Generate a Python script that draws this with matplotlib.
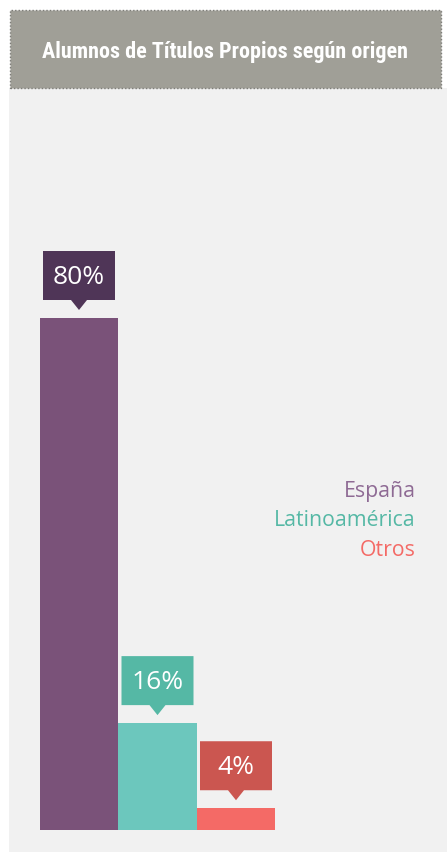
import matplotlib
matplotlib.use("Agg")
import matplotlib.pyplot as plt
import matplotlib.patches as mpatches
import matplotlib.transforms as mtransforms
from matplotlib import font_manager

title = "Alumnos de Títulos Propios según origen"
categories = ["España", "Latinoamérica", "Otros"]
values = [80, 16.7, 3.4]
labels = ["80%", "16%", "4%"]

bar_colors = ["#7a5279", "#6cc7bd", "#f46a66"]
box_colors = ["#4f3557", "#55b8a5", "#cb5650"]
legend_colors = ["#8e6a94", "#55b8a5", "#f46a66"]

W, H = 447, 852
fig = plt.figure(figsize=(W / 100, H / 100), dpi=100)
fig.patch.set_facecolor("white")

def px(x0, y0, x1, y1):
    # pixel box (top-left origin) -> figure fraction rect
    return [x0 / W, 1 - y1 / H, (x1 - x0) / W, (y1 - y0) / H]

# light panel + header
r = px(9, 88, 447, 852)
fig.patches.append(mpatches.Rectangle((r[0], r[1]), r[2], r[3], transform=fig.transFigure,
                                      facecolor="#f1f1f1", edgecolor="none", zorder=-2))
r = px(10, 10, 441, 88)
fig.patches.append(mpatches.Rectangle((r[0], r[1]), r[2], r[3], transform=fig.transFigure,
                                      facecolor="#a09f97", edgecolor="#7d7d78", linestyle=(0, (1, 1.5)),
                                      linewidth=1, zorder=-1))

# narrowest bold font we can find for the title
names = {f.name for f in font_manager.fontManager.ttflist}
title_font = "DejaVu Sans"
for cand in ["Roboto Condensed", "Liberation Sans Narrow", "DejaVu Sans Condensed", "Open Sans Condensed"]:
    if cand in names:
        title_font = cand
        break
t = fig.text((10 + 441) / 2 / W, 1 - 52 / H, title, ha="center", va="center", color="white",
             fontsize=17, fontweight="bold", family=title_font, zorder=5)
fig.canvas.draw()
w = t.get_window_extent().width
t.set_fontsize(17 * 366 / w)

# bar axes: left at x=10px, bottom at y=830px
ax = fig.add_axes(px(10, 88, 437, 830))
ax.set_zorder(3)
ax.set_facecolor("none")
bw = 78.5
ax.set_xlim(-69 / bw, (427 - 69) / bw)
ax.set_ylim(0, 80 * 742 / 512)
ax.axis("off")

x = list(range(len(values)))
ax.bar(x, values, width=1.0, color=bar_colors, linewidth=0, zorder=2)

# callout boxes above each bar, offsets in pixels
for i, (v, lab, c) in enumerate(zip(values, labels, box_colors)):
    tr = mtransforms.Affine2D().scale(1 / 100) + fig.dpi_scale_trans + \
        mtransforms.ScaledTranslation(i, v, ax.transData)
    verts = [(-36, 18), (-8, 18), (0, 8), (8, 18), (36, 18), (36, 67), (-36, 67)]
    ax.add_patch(mpatches.Polygon(verts, closed=True, transform=tr, facecolor=c,
                                  edgecolor="none", zorder=3, clip_on=False))
    ax.text(0, 41, lab, transform=tr, ha="center", va="center", color="white",
            fontsize=19, family="Open Sans", zorder=4)

# legend text on the right
for k, (name, c) in enumerate(zip(categories, legend_colors)):
    fig.text(416 / W, 1 - (491 + 29.5 * k) / H, name, ha="right", va="center", color=c,
             fontsize=15.3, family="Open Sans")

fig.savefig("out.png", dpi=100)
